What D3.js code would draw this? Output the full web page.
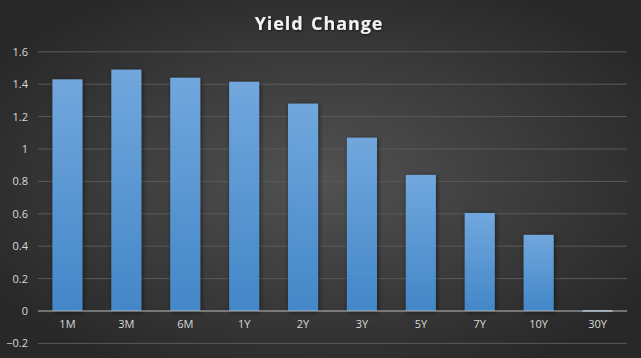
<!DOCTYPE html>
<html><head><meta charset="utf-8">
<script src="https://cdn.jsdelivr.net/npm/d3@7"></script>
<style>html,body{margin:0;padding:0;background:#2a2a2a;}svg{display:block;}</style>
</head><body>
<script>
const categories = ["1M","3M","6M","1Y","2Y","3Y","5Y","7Y","10Y","30Y"];
const values = [1.43, 1.49, 1.44, 1.415, 1.28, 1.07, 0.84, 0.605, 0.47, 0.005];
const yTicks = [-0.2, 0, 0.2, 0.4, 0.6, 0.8, 1, 1.2, 1.4, 1.6];
const title = "Yield Change";

const W = 641, H = 358;
const svg = d3.select("body").append("svg").attr("width", W).attr("height", H);
const defs = svg.append("defs");

const bg = defs.append("radialGradient").attr("id","bg").attr("cx","50%").attr("cy","50%").attr("r","60%");
bg.append("stop").attr("offset","0%").attr("stop-color","#525252");
bg.append("stop").attr("offset","100%").attr("stop-color","#282828");
svg.append("rect").attr("width",W).attr("height",H).attr("fill","url(#bg)");

const bar = defs.append("linearGradient").attr("id","bar").attr("x1",0).attr("y1",0).attr("x2",0).attr("y2",1);
bar.append("stop").attr("offset","0%").attr("stop-color","#71a7dd");
bar.append("stop").attr("offset","100%").attr("stop-color","#4387c8");

const sh = defs.append("filter").attr("id","sh").attr("x","-30%").attr("y","-10%").attr("width","160%").attr("height","130%");
sh.append("feDropShadow").attr("dx",1).attr("dy",1).attr("stdDeviation",2.5).attr("flood-color","#000").attr("flood-opacity",0.55);

const tshadow = defs.append("filter").attr("id","tsh");
tshadow.append("feDropShadow").attr("dx",1).attr("dy",1).attr("stdDeviation",1).attr("flood-color","#000").attr("flood-opacity",0.6);

const x = d3.scaleBand().domain(categories).range([38, 627]).paddingInner(0.49).paddingOuter(0.245);
const y = d3.scaleLinear().domain([-0.2, 1.6]).range([343.4, 51.8]);

// gridlines
svg.append("g").selectAll("line").data(yTicks.filter(d => d !== 0)).join("line")
  .attr("x1",38).attr("x2",627).attr("y1",d=>y(d)).attr("y2",d=>y(d))
  .attr("stroke","#5a5a5a").attr("stroke-width",1);

// y axis labels
const yAxis = svg.append("g").attr("transform","translate(28,0)")
  .call(d3.axisLeft(y).tickValues(yTicks).tickSize(0).tickPadding(0).tickFormat(d3.format("~g")));
yAxis.select(".domain").remove();
yAxis.selectAll("text").attr("fill","#d9d9d9").style("font-family","'Open Sans', Lato, sans-serif").style("font-size","11px");

// bars
svg.append("g").selectAll("rect").data(values).join("rect")
  .attr("x",(d,i)=>x(categories[i]))
  .attr("width",x.bandwidth())
  .attr("y",d=>y(Math.max(0,d)))
  .attr("height",d=>Math.max(1.5, Math.abs(y(d)-y(0))))
  .attr("fill",(d,i)=> d < 0.02 ? "#a9c9ea" : "url(#bar)")
  .attr("filter",(d)=> d < 0.02 ? null : "url(#sh)");

// zero line
svg.append("line").attr("x1",38).attr("x2",627).attr("y1",y(0)).attr("y2",y(0))
  .attr("stroke","#bcbcbc").attr("stroke-width",1.2);

// x axis labels
const xAxis = svg.append("g").attr("transform",`translate(0,${y(0)+9})`)
  .call(d3.axisBottom(x).tickSize(0).tickPadding(0));
xAxis.select(".domain").remove();
xAxis.selectAll("text").attr("fill","#d9d9d9").attr("dy","0.71em").style("font-family","'Open Sans', Lato, sans-serif").style("font-size","11px");

// title
svg.append("text").attr("x",319).attr("y",30).attr("text-anchor","middle")
  .attr("fill","#f2f2f2").attr("filter","url(#tsh)")
  .style("font-family","'Open Sans', Lato, sans-serif").style("font-size","18px").style("font-weight","bold")
  .style("letter-spacing","0.9px").style("word-spacing","2px")
  .text(title);
</script>
</body></html>
